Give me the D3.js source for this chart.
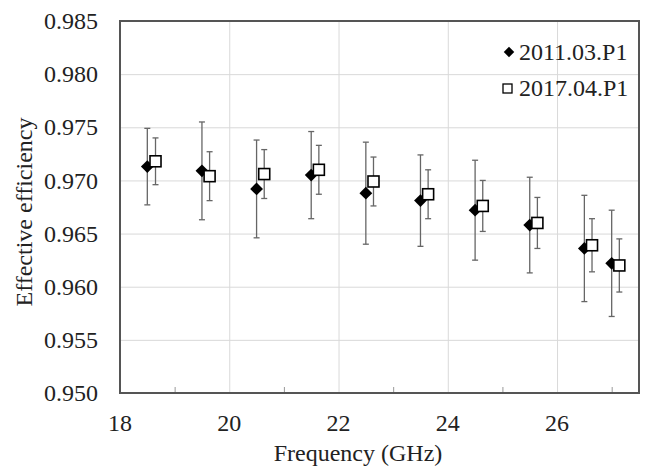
<!DOCTYPE html>
<html>
<head>
<meta charset="utf-8">
<script src="https://cdn.jsdelivr.net/npm/d3@7"></script>
<style>
  body { margin: 0; background: #fff; }
</style>
</head>
<body>
<div id="chart"></div>
<script>
// data
const freq2011 = [18.5, 19.5, 20.5, 21.5, 22.5, 23.5, 24.5, 25.5, 26.5, 27.0];
const eff2011 = [0.9713, 0.9709, 0.9692, 0.9705, 0.9688, 0.9681, 0.9672, 0.9658, 0.9636, 0.9622];
const err2011 = [0.0036, 0.0046, 0.0046, 0.0041, 0.0048, 0.0043, 0.0047, 0.0045, 0.0050, 0.0050];

const freq2017 = [18.65, 19.64, 20.64, 21.64, 22.64, 23.64, 24.64, 25.64, 26.64, 27.14];
const eff2017 = [0.9718, 0.9704, 0.9706, 0.9710, 0.9699, 0.9687, 0.9676, 0.9660, 0.9639, 0.9620];
const err2017 = [0.0022, 0.0023, 0.0023, 0.0023, 0.0023, 0.0023, 0.0024, 0.0024, 0.0025, 0.0025];

const xTicks = [18, 20, 22, 24, 26];
const xMinor = [19, 21, 23, 25, 27];
const yTicks = [0.950, 0.955, 0.960, 0.965, 0.970, 0.975, 0.980, 0.985];
const seriesNames = ["2011.03.P1", "2017.04.P1"];

const W = 647, H = 469;
const margin = {top: 21, right: 8, bottom: 76, left: 120};
const width = W - margin.left - margin.right,
    height = H - margin.top - margin.bottom;
const serif = "Times New Roman";
const fs = 24;

const svg = d3.select("#chart")
    .append("svg")
    .attr("width", W)
    .attr("height", H)
    .attr("font-family", serif);

// set the font both ways so nothing falls back to sans
function serifText(sel) {
    return sel.attr("font-family", serif)
        .attr("font-size", fs)
        .style("font-family", serif)
        .style("font-size", fs + "px")
        .attr("fill", "#222");
}

const x = d3.scaleLinear().domain([18, 27.5]).range([margin.left, W - margin.right]);
const y = d3.scaleLinear().domain([0.950, 0.985]).range([H - margin.bottom, margin.top]);

// horizontal grid
svg.append("g")
    .attr("transform", `translate(${margin.left}, 0)`)
    .call(d3.axisLeft(y).tickValues(yTicks).tickSize(-width).tickFormat(""))
    .call(a => a.select(".domain").remove())
    .selectAll("line").attr("stroke", "#d9d9d9").attr("stroke-width", 1);

// vertical grid
svg.append("g")
    .attr("transform", `translate(0, ${H - margin.bottom})`)
    .call(d3.axisBottom(x).tickValues(xTicks.slice(1)).tickSize(-height).tickFormat(""))
    .call(a => a.select(".domain").remove())
    .selectAll("line").attr("stroke", "#d9d9d9").attr("stroke-width", 1);

// minor ticks on the bottom axis
svg.append("g")
    .attr("transform", `translate(0, ${H - margin.bottom})`)
    .call(d3.axisBottom(x).tickValues(xMinor).tickSize(-6).tickFormat(""))
    .call(a => a.select(".domain").remove())
    .selectAll("line").attr("stroke", "#999").attr("stroke-width", 1);

// frame
svg.append("rect")
    .attr("x", margin.left).attr("y", margin.top)
    .attr("width", width).attr("height", height)
    .attr("fill", "none")
    .attr("stroke", "#555")
    .attr("stroke-width", 2);

// tick labels, written as plain text elements
svg.append("g").selectAll("text")
    .data(yTicks)
    .enter().append("text")
    .attr("x", margin.left - 22)
    .attr("y", d => y(d))
    .attr("dy", "0.34em")
    .attr("text-anchor", "end")
    .call(serifText)
    .text(d => d3.format(".3f")(d));

svg.append("g").selectAll("text")
    .data(xTicks)
    .enter().append("text")
    .attr("x", d => x(d))
    .attr("y", H - margin.bottom + 38)
    .attr("text-anchor", "middle")
    .call(serifText)
    .text(d => d);

// axis titles
svg.append("text")
    .attr("x", 358)
    .attr("y", 461)
    .attr("text-anchor", "middle")
    .call(serifText)
    .text("Frequency (GHz)");

svg.append("text")
    .attr("transform", "translate(32, 212) rotate(-90)")
    .attr("text-anchor", "middle")
    .call(serifText)
    .text("Effective efficiency");

// error bars
function errorBars(xs, ys, es) {
    const eb = svg.append("g");
    const data = xs.map((d, i) => ({f: d, v: ys[i], e: es[i]}));
    eb.selectAll("line.v").data(data).enter().append("line")
        .attr("x1", d => x(d.f)).attr("x2", d => x(d.f))
        .attr("y1", d => y(d.v - d.e)).attr("y2", d => y(d.v + d.e))
        .attr("stroke", "#666").attr("stroke-width", 1.3);
    [-1, 1].forEach(s => {
        eb.selectAll("line.c" + (s + 1)).data(data).enter().append("line")
            .attr("x1", d => x(d.f) - 3).attr("x2", d => x(d.f) + 3)
            .attr("y1", d => y(d.v + s * d.e)).attr("y2", d => y(d.v + s * d.e))
            .attr("stroke", "#666").attr("stroke-width", 1.3);
    });
}
errorBars(freq2011, eff2011, err2011);
errorBars(freq2017, eff2017, err2017);

// markers
const diamond = d3.symbol().type(d3.symbolSquare).size(82);
svg.append("g").selectAll("path")
    .data(freq2011)
    .enter().append("path")
    .attr("d", diamond)
    .attr("transform", (d, i) => `translate(${x(d)}, ${y(eff2011[i])}) rotate(45)`)
    .attr("fill", "#000");

svg.append("g").selectAll("rect")
    .data(freq2017)
    .enter().append("rect")
    .attr("x", d => x(d) - 5.5)
    .attr("y", (d, i) => y(eff2017[i]) - 5.5)
    .attr("width", 11).attr("height", 11)
    .attr("fill", "#fff")
    .attr("stroke", "#000")
    .attr("stroke-width", 1.6);

// legend
const legend = svg.append("g");
legend.append("path")
    .attr("d", d3.symbol().type(d3.symbolSquare).size(55))
    .attr("transform", "translate(509, 52) rotate(45)")
    .attr("fill", "#000");
legend.append("rect")
    .attr("x", 503).attr("y", 84).attr("width", 9).attr("height", 9)
    .attr("fill", "#fff").attr("stroke", "#000").attr("stroke-width", 1.3);
legend.selectAll("text")
    .data(seriesNames)
    .enter().append("text")
    .attr("x", 519)
    .attr("y", (d, i) => 60 + i * 36)
    .call(serifText)
    .text(d => d);
</script>
</body>
</html>
